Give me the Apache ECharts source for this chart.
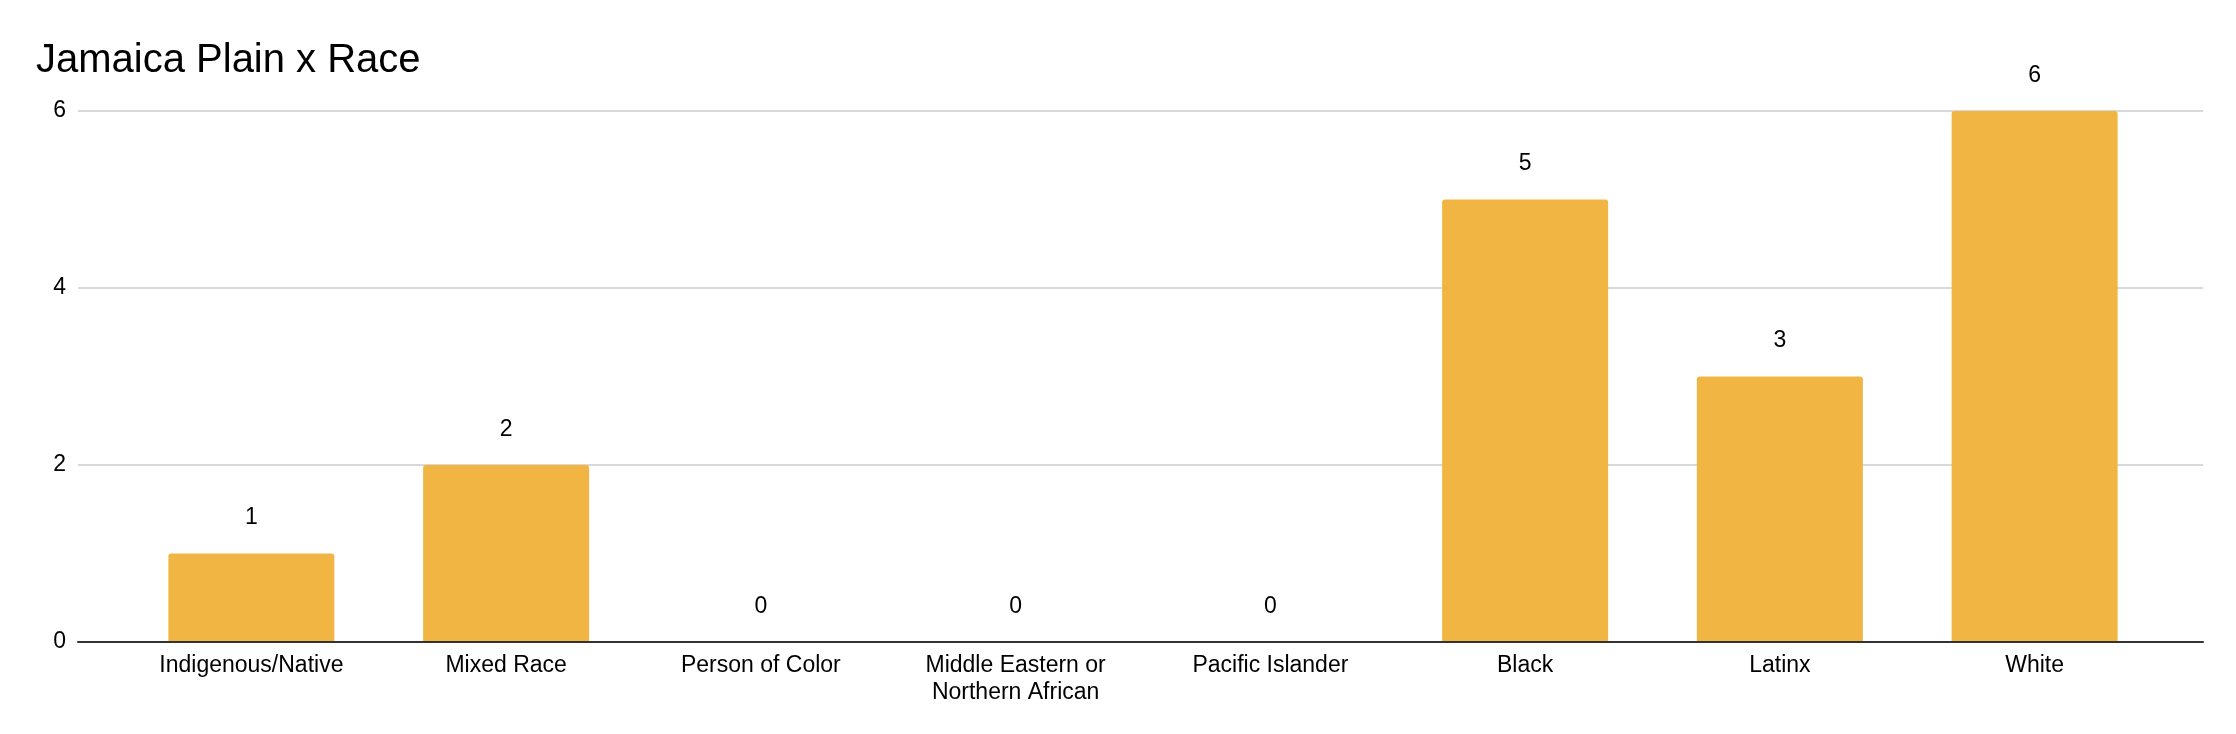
<!DOCTYPE html>
<html>
<head>
<meta charset="utf-8">
<script src="https://cdn.jsdelivr.net/npm/echarts@6/dist/echarts.min.js"></script>
<style>
html,body{margin:0;padding:0;background:#fff;}
#c{width:2236px;height:734px;}
</style>
</head>
<body>
<div id="c"></div>
<script>
const titleText = 'Jamaica Plain x Race';
const categories = ['Indigenous/Native', 'Mixed Race', 'Person of Color', 'Middle Eastern or\nNorthern African', 'Pacific Islander', 'Black', 'Latinx', 'White'];
const values = [1, 2, 0, 0, 0, 5, 3, 6];
const yTicks = [0, 2, 4, 6];

const FONT = '"Liberation Sans", Arial, sans-serif';
const chart = echarts.init(document.getElementById('c'), null, {renderer: 'canvas'});
const yMin = yTicks[0], yMax = yTicks[yTicks.length - 1], yStep = yTicks[1] - yTicks[0];

chart.setOption({
  animation: false,
  backgroundColor: '#ffffff',
  title: {
    text: titleText,
    left: 31, top: 36,
    textStyle: {fontFamily: FONT, fontSize: 40, fontWeight: 'normal', color: '#000'}
  },
  grid: [
    {left: 78, right: 33, top: 111, bottom: 92, containLabel: false},
    {left: 124, right: 74, top: 111, bottom: 92, containLabel: false}
  ],
  xAxis: [
    {
      gridIndex: 0, type: 'value', min: 0, max: 1, z: 5,
      axisLine: {show: true, lineStyle: {color: '#333', width: 2}},
      axisTick: {show: false}, axisLabel: {show: false}, splitLine: {show: false}
    },
    {
      gridIndex: 1, type: 'category', data: categories,
      axisLine: {show: false}, axisTick: {show: false}, splitLine: {show: false},
      axisLabel: {
        interval: 0, margin: 10, color: '#000', fontFamily: FONT, fontSize: 23, lineHeight: 27
      }
    }
  ],
  yAxis: [
    {
      gridIndex: 0, type: 'value', min: yMin, max: yMax, interval: yStep,
      axisLine: {show: false}, axisTick: {show: false},
      axisLabel: {margin: 12, color: '#000', fontFamily: FONT, fontSize: 23},
      splitLine: {show: true, lineStyle: {color: '#cccccc', width: 1.5}}
    },
    {
      gridIndex: 1, type: 'value', min: yMin, max: yMax, interval: yStep, show: false,
      splitLine: {show: false}
    }
  ],
  series: [{
    type: 'bar',
    xAxisIndex: 1, yAxisIndex: 1,
    data: values,
    barWidth: 166,
    itemStyle: {color: '#F0B543', borderRadius: [3, 3, 0, 0]},
    label: {
      show: true, position: 'top', distance: 24,
      color: '#000', fontFamily: FONT, fontSize: 23
    }
  }]
});
</script>
</body>
</html>
